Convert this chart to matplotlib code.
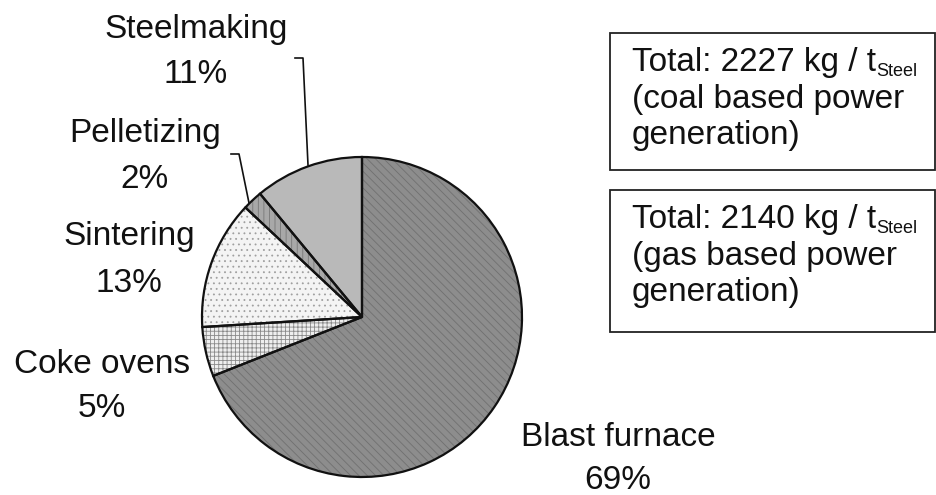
import numpy as np
import matplotlib
matplotlib.use("Agg")
import matplotlib.pyplot as plt
from matplotlib.patches import Wedge, Rectangle

plt.rcParams['font.family'] = ['Liberation Sans', 'DejaVu Sans']
plt.rcParams['hatch.linewidth'] = 0.6

# CO2 share of each process step
steps = ['Steelmaking', 'Pelletizing', 'Sintering', 'Coke ovens', 'Blast furnace']
shares = [11, 2, 13, 5, 69]

face_colors = ['#b9b9b9', '#a8a8a8', '#f4f4f4', '#eeeeee', '#8d8d8d']
hatches = ['', '|||', '...', '++++', '\\\\\\\\']
hatch_colors = ['#b9b9b9', '#777777', '#a0a0a0', '#8a8a8a', '#707070']

# totals in the boxes
totals = ['2227', '2140']
power_src = ['coal', 'gas']

W, H = 937, 495
fig = plt.figure(figsize=(W / 100, H / 100), dpi=100)
ax = fig.add_axes([0, 0, 1, 1])

cx, cy, R = 362, 317, 160
# y axis is flipped below, so clockwise here is counterclockwise on screen
wedges, _ = ax.pie(shares, startangle=-90, counterclock=False, colors=face_colors,
                   center=(cx, cy), radius=R, wedgeprops=dict(linewidth=0))

for w, h, hc in zip(wedges, hatches, hatch_colors):
    if h:
        ax.add_patch(Wedge(w.center, w.r, w.theta1, w.theta2, facecolor='none',
                           edgecolor=hc, hatch=h, linewidth=0, zorder=2))
    ax.add_patch(Wedge(w.center, w.r, w.theta1, w.theta2, facecolor='none',
                       edgecolor='#111111', linewidth=1.6, zorder=3))

ax.set_xlim(0, W)
ax.set_ylim(H, 0)
ax.axis('off')

# labels
label_x = [196, 145, 129, 102, 618]
name_base = [38, 142, 245, 373, 446]
pct_base = [83, 188, 292, 417, 489]
for name, s, x, yb, yp in zip(steps, shares, label_x, name_base, pct_base):
    ax.text(x, yb, name, fontsize=24, ha='center', va='baseline', color='#111111')
    ax.text(x, yp, f'{s}%', fontsize=24, ha='center', va='baseline', color='#111111')

# leader lines for the two thin slices
ax.plot([295, 303, 308], [58, 58, 165], color='#111111', lw=1.2, zorder=4)
ax.plot([231, 239, 249], [154, 154, 203], color='#111111', lw=1.2, zorder=4)

# boxes on the right
box_tops = [33, 190]
box_bottoms = [170, 332]
for tot, src, top, bot in zip(totals, power_src, box_tops, box_bottoms):
    ax.add_patch(Rectangle((610, top), 325, bot - top, facecolor='white',
                           edgecolor='#222222', linewidth=1.3, clip_on=False))
    b = top + 38
    t1 = ax.text(632, b, f'Total: {tot} kg / t', fontsize=24, va='baseline', color='#111111')
    ax.annotate('Steel', xy=(1, b + 5), xycoords=(t1, 'data'), fontsize=13,
                ha='left', va='baseline', color='#111111')
    ax.text(632, b + 37, f'({src} based power', fontsize=24, va='baseline', color='#111111')
    ax.text(632, b + 73, 'generation)', fontsize=24, va='baseline', color='#111111')

fig.savefig('out.png', dpi=100)
